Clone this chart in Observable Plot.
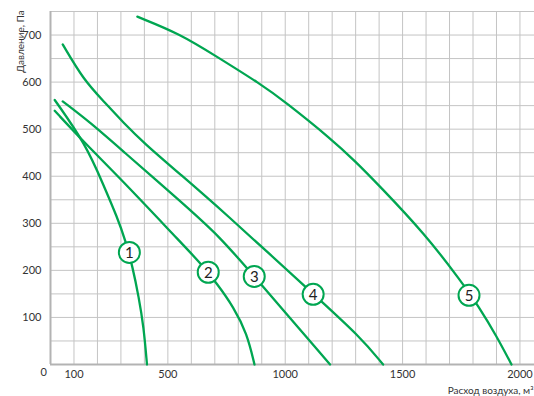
<!DOCTYPE html>
<html>
<head>
<meta charset="utf-8">
<script src="https://cdn.jsdelivr.net/npm/d3@7"></script>
<script src="https://cdn.jsdelivr.net/npm/@observablehq/plot@0.6"></script>
<style>
  html, body { margin: 0; padding: 0; background: #fff; }
  #chart { width: 534px; height: 396px; overflow: hidden; }
</style>
</head>
<body>
<div id="chart"></div>
<script>
// Curves: [air flow m³/h, pressure Pa]
const curve1 = [[18,562],[149,469],[227,380],[284,313],[319,264],[350,207],[376,143],[397,80],[411,0]];
const curve2 = [[18,539],[149,469],[298,395],[546,264],[638,216],[709,172],[780,122],[837,66],[869,0]];
const curve3 = [[52,559],[170,514],[298,458],[553,347],[723,271],[868,187],[1191,0]];
const curve4 = [[52,680],[142,604],[227,559],[312,513],[397,471],[553,404],[723,331],[1121,149],[1319,59],[1417,0]];
const curve5 = [[370,739],[553,702],[699,657],[898,595],[997,559],[1199,478],[1298,432],[1399,381],[1596,277],[1752,175],[1823,124],[1901,60],[1964,0]];

const curveNames = ["1","2","3","4","5"];
const labelX = [336, 672, 868, 1119, 1783];
const labelY = [238, 196, 187, 149, 147];

const xTicks = [100, 500, 1000, 1500, 2000];
const yTicks = [100, 200, 300, 400, 500, 600, 700];
const xGrid = d3.range(100, 2001, 100);
const yGrid = d3.range(50, 751, 50);
const xZeroLabel = ["0"];
const xTitle = "Расход воздуха, м³";
const yTitle = "Давление, Па";

const curves = [curve1, curve2, curve3, curve4, curve5];
const lineData = curves.flatMap((c, i) => c.map(([x, y]) => ({series: curveNames[i], x, y})));
const labelData = curveNames.map((n, i) => ({name: n, x: labelX[i], y: labelY[i]}));

const green = "#00a651";

const chart = Plot.plot({
  width: 534,
  height: 396,
  marginLeft: 50,
  marginRight: 0,
  marginTop: 11,
  marginBottom: 32,
  x: {domain: [0, 2062], label: null},
  y: {domain: [0, 750], label: null},
  axis: null,
  style: {fontFamily: "Lato, 'Open Sans', sans-serif", fontSize: "11px", color: "#333", background: "#fff"},
  marks: [
    Plot.gridX(xGrid, {stroke: "#c4c4c4", strokeOpacity: 1, strokeWidth: 1}),
    Plot.gridY(yGrid, {stroke: "#c4c4c4", strokeOpacity: 1, strokeWidth: 1}),
    Plot.ruleX([0], {stroke: "#b3b3b3", strokeWidth: 2}),
    Plot.ruleY([0], {stroke: "#b3b3b3", strokeWidth: 2}),
    Plot.axisY(yTicks, {tickSize: 0, tickPadding: 9, label: null, fill: "#333", fontSize: 11, tickFormat: d3.format("d")}),
    Plot.axisX(xTicks, {tickSize: 0, tickPadding: 6, label: null, fill: "#333", fontSize: 11, tickFormat: d3.format("d")}),
    Plot.text(xZeroLabel, {frameAnchor: "bottom-left", dx: -10, dy: 11, fill: "#333", fontSize: 11}),
    Plot.text([xTitle], {frameAnchor: "bottom-right", textAnchor: "end", lineAnchor: "middle", dx: -1, dy: 26, fill: "#333", fontSize: 10}),
    Plot.text([yTitle], {frameAnchor: "top-left", textAnchor: "middle", lineAnchor: "middle", rotate: -90, dx: -30, dy: 30, fill: "#333", fontSize: 10}),
    Plot.line(lineData, {x: "x", y: "y", z: "series", stroke: green, strokeWidth: 2.3, curve: "basis"}),
    Plot.dot(labelData, {x: "x", y: "y", r: 10.5, fill: "#fff", stroke: green, strokeWidth: 2}),
    Plot.text(labelData, {x: "x", y: "y", text: "name", fill: "#222", fontSize: 15, dy: 1})
  ]
});
document.getElementById("chart").appendChild(chart);
</script>
</body>
</html>
